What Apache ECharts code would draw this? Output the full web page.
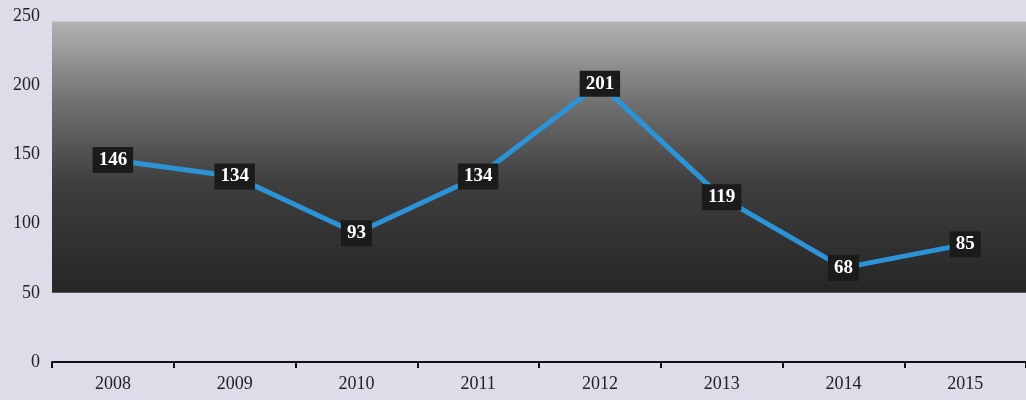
<!DOCTYPE html>
<html><head><meta charset="utf-8">
<script src="https://cdn.jsdelivr.net/npm/echarts@6/dist/echarts.min.js"></script>
<style>html,body{margin:0;padding:0;background:#dcdde8;}#c{width:1026px;height:400px;}</style>
</head><body><div id="c"></div>
<script>
const categories = ['2008','2009','2010','2011','2012','2013','2014','2015'];
const values = [146, 134, 93, 134, 201, 119, 68, 85];
const yTicks = [0, 50, 100, 150, 200, 250];
const panelRange = [50, 246];

const chart = echarts.init(document.getElementById('c'));
chart.setOption({
  backgroundColor: '#dcdde8',
  animation: false,
  grid: { left: 52, right: 0, top: 16, bottom: 38 },
  xAxis: {
    type: 'category', data: categories, boundaryGap: true,
    axisLine: { lineStyle: { color: '#111', width: 2 } },
    axisTick: { show: true, alignWithLabel: false, length: 6, lineStyle: { color: '#111', width: 2 } },
    axisLabel: { color: '#222', fontFamily: 'Liberation Serif', fontSize: 18, margin: 13 }
  },
  yAxis: {
    type: 'value', min: yTicks[0], max: yTicks[yTicks.length - 1], interval: 50,
    axisLine: { show: false }, axisTick: { show: false }, splitLine: { show: false },
    axisLabel: { color: '#222', fontFamily: 'Liberation Serif', fontSize: 18, margin: 12 }
  },
  series: [{
    type: 'line', data: values,
    symbol: 'circle', symbolSize: 1,
    itemStyle: { color: '#2b93d6' },
    lineStyle: { color: '#2b93d6', width: 5 },
    label: {
      show: true, position: 'inside', color: '#fff',
      fontFamily: 'Liberation Serif', fontWeight: 'bold', fontSize: 19,
      backgroundColor: '#1b1b1b', padding: [4, 6, 3, 6]
    },
    markArea: {
      silent: true,
      itemStyle: {
        color: new echarts.graphic.LinearGradient(0, 0, 0, 1, [
          { offset: 0, color: '#b2b2b2' },
          { offset: 0.3, color: '#707070' },
          { offset: 0.6, color: '#3e3e3e' },
          { offset: 1, color: '#262626' }
        ])
      },
      data: [[{ yAxis: panelRange[0] }, { yAxis: panelRange[1] }]]
    },
    z: 3
  }]
});
</script></body></html>
